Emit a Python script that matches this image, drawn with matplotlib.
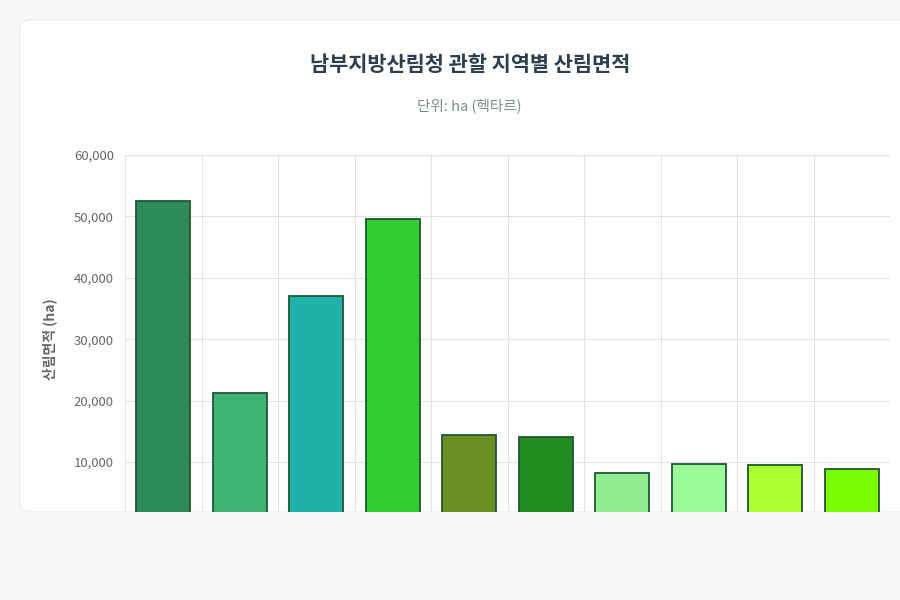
import matplotlib
matplotlib.use('agg')
import matplotlib.pyplot as plt
from matplotlib.patches import FancyBboxPatch, Rectangle
from matplotlib.ticker import FuncFormatter, FixedLocator

plt.rcParams['font.family'] = ['Noto Sans CJK KR', 'DejaVu Sans']

regions = ['영주', '영덕', '구미', '울진', '양산', '함양', '진주', '울산', '부산', '창원']
areas = [52500, 21250, 37050, 49600, 14400, 14100, 8200, 9700, 9550, 8850]
colors = ['#2e8b57', '#3cb371', '#20b2aa', '#32cd32', '#6b8e23',
          '#228b22', '#90ee90', '#98fb98', '#adff2f', '#7cfc00']

bg = '#f7f8fa'
fig = plt.figure(figsize=(9, 6), dpi=100, facecolor=bg)

card = FancyBboxPatch((0.022, 0.147), 1.2, 0.82, boxstyle='round,pad=0,rounding_size=0.015',
                      transform=fig.transFigure, facecolor='white', edgecolor='#eceef1',
                      linewidth=0.8, zorder=-1)
fig.patches.append(card)

ax = fig.add_axes([0.1389, 0.1277, 0.85, 0.614])
ax.set_facecolor('none')
x = range(len(regions))
ax.bar(x, areas, width=0.7, color=colors, edgecolor='#1e5631', linewidth=1.3, zorder=3)
ax.set_xlim(-0.5, len(regions) - 0.5)
ax.set_ylim(0, 60000)
ax.set_yticks(range(0, 60001, 10000))
ax.yaxis.set_major_formatter(FuncFormatter(lambda v, p: f'{int(v):,}'))
ax.set_xticks(list(x))
ax.set_xticklabels(regions)
ax.xaxis.set_minor_locator(FixedLocator([i - 0.5 for i in range(len(regions) + 1)]))
ax.grid(axis='y', color='#e3e3e3', linewidth=0.8, zorder=0)
ax.grid(axis='x', which='minor', color='#e3e3e3', linewidth=0.8, zorder=0)
for s in ax.spines.values():
    s.set_visible(False)
ax.tick_params(axis='both', which='both', length=0, colors='#666666', labelsize=9.5)
ax.tick_params(axis='y', pad=8)
ax.set_ylabel('산림면적 (ha)', fontsize=10, fontweight='bold', color='#666666', labelpad=12)

fig.text(0.522, 0.892, '남부지방산림청 관할 지역별 산림면적', ha='center', va='center',
         fontsize=15, fontweight='bold', color='#2c3e50')
fig.text(0.522, 0.823, '단위: ha (헥타르)', ha='center', va='center', fontsize=10.5, color='#7f8c8d')

cover = Rectangle((0, 0), 1, 0.147, transform=fig.transFigure, facecolor=bg,
                  edgecolor='none', zorder=10)
fig.patches.append(cover)

fig.savefig('out.png', dpi=100, facecolor=bg)
